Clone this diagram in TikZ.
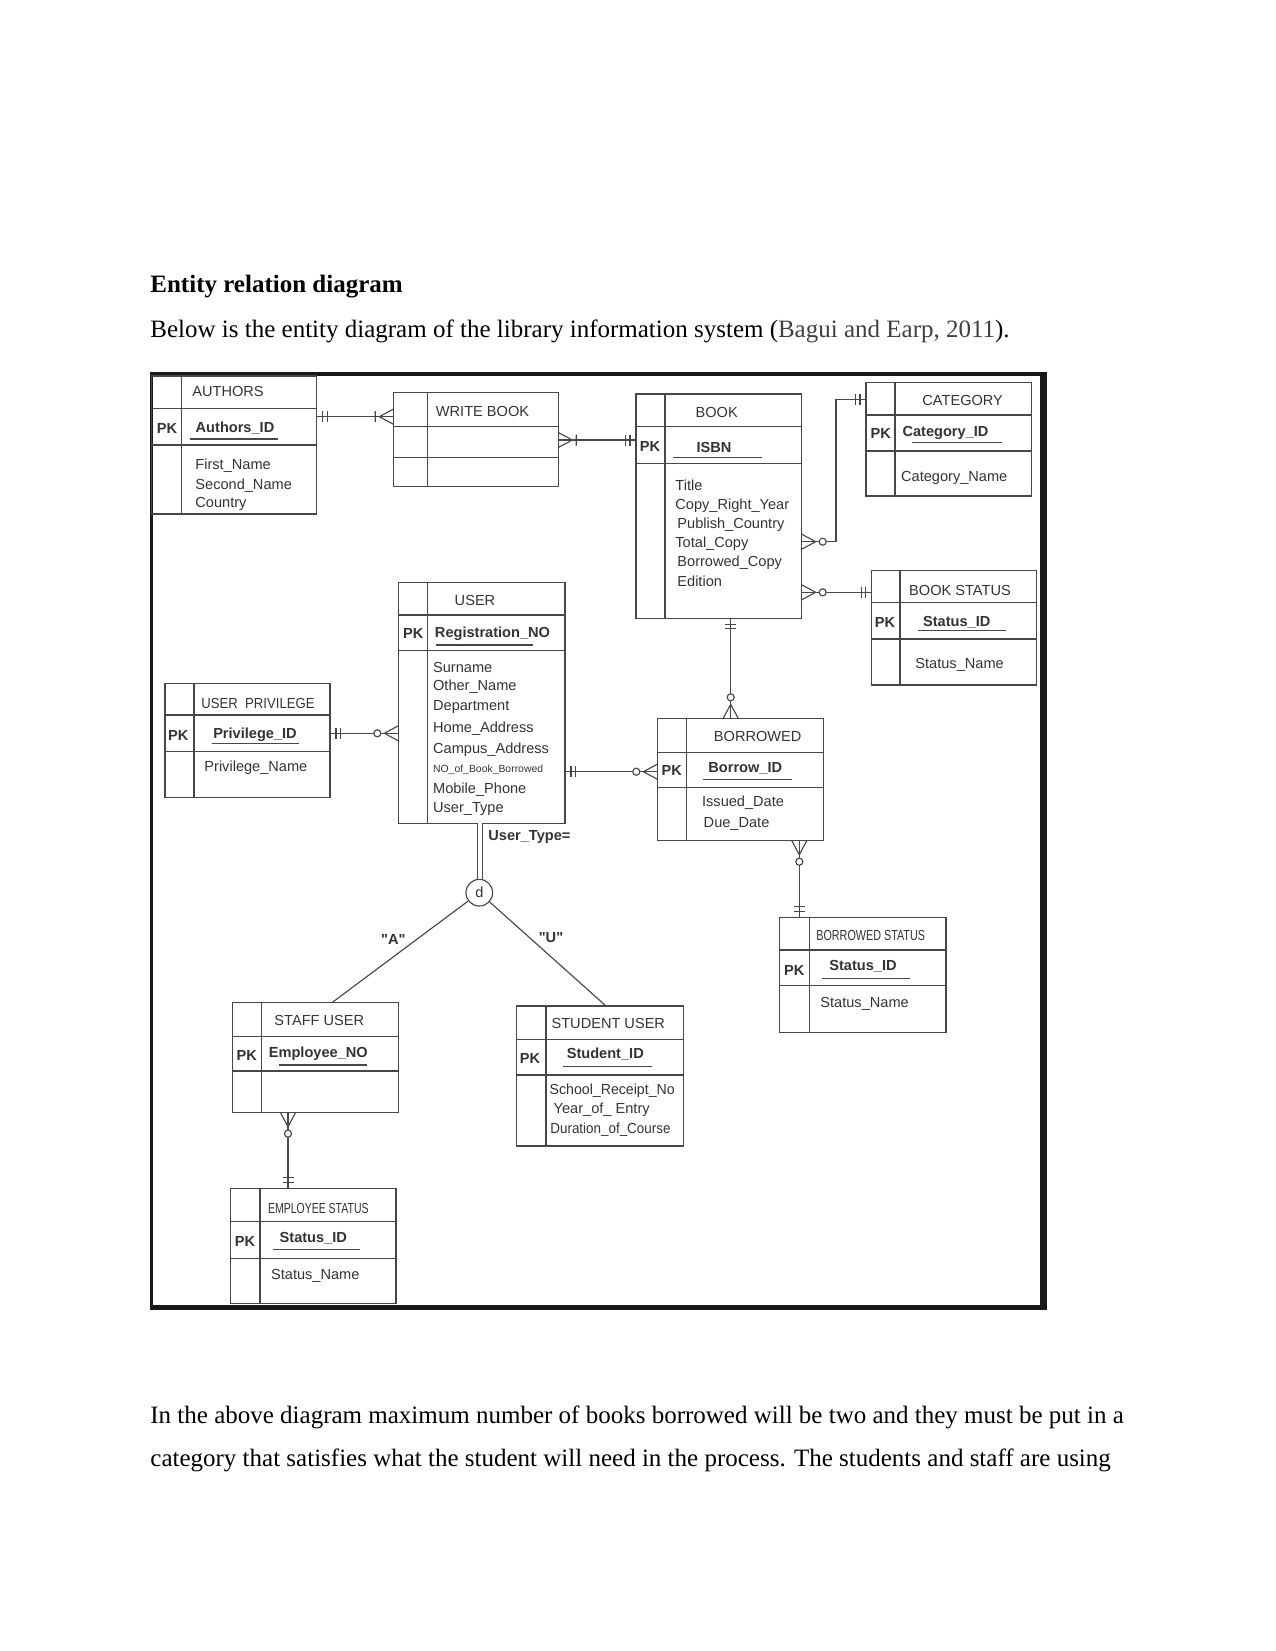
\documentclass[tikz,border=0pt]{standalone}
\usepackage{fontspec}
\usepackage{graphicx}
\setmainfont{Liberation Serif}
\newfontfamily\dsans{Liberation Sans}
\usetikzlibrary{fit,calc}
\tikzset{
 eline/.style={draw=black!72, line width=0.55pt},
 ebox/.style={eline, inner sep=0pt, outer sep=0pt, rectangle},
 dtxt/.style={inner sep=0pt, text=black!80, font=\dsans\fontsize{7}{8}\selectfont},
 ttl/.style={dtxt},
 pkl/.style={dtxt, font=\dsans\bfseries\fontsize{7}{8}\selectfont},
 attr/.style={dtxt, anchor=west},
 body/.style={inner sep=0pt, anchor=base west, font=\fontsize{12}{14}\selectfont},
 uline/.style={draw=black!72, line width=0.6pt},
}
% entity box: name, x1, y1, xdiv, x2, ytitle, ypk, y2
\newcommand\entity[8]{%
 \node[ebox, fit={(#2,#3) (#5,#8)}] (#1) {};
 \draw[eline] (#2,#6) -- (#5,#6) (#2,#7) -- (#5,#7) (#4,#3) -- (#4,#8);}
% cardinality marks: point, outward angle
\newcommand\mkOne[2]{\begin{scope}[shift={(#1)},rotate=#2]
 \draw[eline] (6,-5.5) -- (6,5.5) (10.5,-5.5) -- (10.5,5.5);\end{scope}}
\newcommand\mkZM[2]{\begin{scope}[shift={(#1)},rotate=#2]
 \draw[eline] (0,-7.5) -- (14,0) -- (0,7.5);
 \draw[eline, fill=white] (21,0) circle[radius=1.7pt];\end{scope}}
\newcommand\mkOM[2]{\begin{scope}[shift={(#1)},rotate=#2]
 \draw[eline] (0,-7.5) -- (14,0) -- (0,7.5) (18,-5.5) -- (18,5.5);\end{scope}}
\begin{document}
\begin{tikzpicture}[x=0.48pt, y=-0.48pt]
\useasboundingbox (0,0) rectangle (1275,1651);

% text of the page
\node[body, font=\bfseries\fontsize{12}{14}\selectfont] (head) at (150,292) {Entity relation diagram};
\node[body] (intro) at (150,337) {Below is the entity diagram of the library information system ({\color{black!75}Bagui and Earp, 2011}).};
\node[body] (par1) at (150,1423) {In the above diagram maximum number of books borrowed will be two and they must be put in a};
\node[body] (par2) at (150,1466) {category that satisfies what the student will need in the process. The students and staff are using};

% frame
\fill[black!90] (150,372) rectangle (1047,376);
\fill[black!90] (150,372) rectangle (152.5,1310);
\fill[black!90] (1039.5,372) rectangle (1047,1310);
\fill[black!90] (150,1305) rectangle (1047,1310);

% entities
\entity{authors}{151.7}{376}{181.7}{316.7}{408.3}{445}{514}
\entity{writebook}{393.3}{392.3}{427.3}{558.3}{426.7}{457.3}{486.7}
\entity{book}{636}{394}{665}{801.7}{426.7}{463.3}{618.3}
\entity{category}{866}{382.3}{895}{1031.7}{415}{451}{496}
\entity{bookstatus}{871.7}{570.7}{900}{1036.7}{602.7}{639}{685}
\entity{user}{398.3}{582.7}{427.3}{565}{615}{650.7}{823.3}
\entity{privilege}{165}{683.3}{194}{330}{715}{751.7}{797.7}
\entity{borrowed}{657.3}{718.3}{686.7}{823.3}{752.3}{787.3}{840.7}
\entity{bstatus}{779.3}{917.3}{809.3}{946}{950}{985.7}{1032.3}
\entity{staff}{232.3}{1002.7}{261.7}{398.3}{1036.7}{1071}{1112.7}
\entity{student}{516.7}{1006}{546}{683.3}{1039.3}{1075}{1146}
\entity{empstatus}{230.7}{1188.3}{260}{396}{1221.7}{1258.3}{1303.3}

% AUTHORS
\node[ttl] (authors-t) at (228,391) {AUTHORS};
\node[pkl] (authors-pk) at (167,428) {PK};
\node[pkl] (authors-k) at (235,428) {Authors\_ID};
\draw[uline] (190,439) -- (278,439);
\node[attr] (authors-a1) at (195,466) {First\_Name};
\node[attr] (authors-a2) at (195,486) {Second\_Name};
\node[attr] (authors-a3) at (195,504) {Country};

% WRITE BOOK
\node[ttl] (writebook-t) at (482.5,411.7) {WRITE BOOK};

% BOOK
\node[ttl] (book-t) at (716.7,412.7) {BOOK};
\node[pkl] (book-pk) at (650,446.7) {PK};
\node[pkl] (book-k) at (714,447) {ISBN};
\draw[uline] (673,457.3) -- (761.7,457.3);
\node[attr] (book-a1) at (675,485) {Title};
\node[attr] (book-a2) at (675,506) {Copy\_Right\_Year};
\node[attr] (book-a3) at (677,524.3) {Publish\_Country};
\node[attr] (book-a4) at (675,544) {Total\_Copy};
\node[attr] (book-a5) at (677,562.7) {Borrowed\_Copy};
\node[attr] (book-a6) at (677,581.7) {Edition};

% CATEGORY
\node[ttl] (category-t) at (962.7,400.7) {CATEGORY};
\node[pkl] (category-pk) at (880.7,433.3) {PK};
\node[pkl] (category-k) at (945.5,433.3) {Category\_ID};
\draw[uline] (911.7,442.7) -- (1001.7,442.7);
\node[attr] (category-a1) at (900.7,478.3) {Category\_Name};

% BOOK STATUS
\node[ttl] (bookstatus-t) at (960,590.7) {BOOK STATUS};
\node[pkl] (bookstatus-pk) at (885,622.3) {PK};
\node[pkl] (bookstatus-k) at (956.7,622.3) {Status\_ID};
\draw[uline] (918,630.7) -- (1006,630.7);
\node[attr] (bookstatus-a1) at (915,665) {Status\_Name};

% USER
\node[ttl] (user-t) at (475,600.7) {USER};
\node[pkl] (user-pk) at (413.3,633.3) {PK};
\node[pkl] (user-k) at (492.5,633.3) {Registration\_NO};
\draw[uline] (436,645) -- (533,645);
\node[attr] (user-a1) at (432.7,667.3) {Surname};
\node[attr] (user-a2) at (432.7,686.7) {Other\_Name};
\node[attr] (user-a3) at (432.7,707.3) {Department};
\node[attr] (user-a4) at (432.7,728.3) {Home\_Address};
\node[attr] (user-a5) at (432.7,749.3) {Campus\_Address};
\node[attr, font=\dsans\fontsize{5}{6}\selectfont] (user-a6) at (432.7,769.3) {NO\_of\_Book\_Borrowed};
\node[attr] (user-a7) at (432.7,790) {Mobile\_Phone};
\node[attr] (user-a8) at (432.7,809.3) {User\_Type};

% USER PRIVILEGE
\node[ttl] (privilege-t) at (258,703.3) {\scalebox{0.9}[1]{USER~ PRIVILEGE}};
\node[pkl] (privilege-pk) at (178.3,735) {PK};
\node[pkl] (privilege-k) at (255,735) {Privilege\_ID};
\draw[uline] (211.7,743.3) -- (299.3,743.3);
\node[attr] (privilege-a1) at (204,767.3) {Privilege\_Name};

% BORROWED
\node[ttl] (borrowed-t) at (757.7,736) {BORROWED};
\node[pkl] (borrowed-pk) at (671.7,770) {PK};
\node[pkl] (borrowed-k) at (745.3,768.3) {Borrow\_ID};
\draw[uline] (703.3,779.3) -- (792.3,779.3);
\node[attr] (borrowed-a1) at (701.7,802.7) {Issued\_Date};
\node[attr] (borrowed-a2) at (703.3,824) {Due\_Date};

% BORROWED STATUS
\node[ttl] (bstatus-t) at (870.7,935) {\scalebox{0.74}[1]{BORROWED STATUS}};
\node[pkl] (bstatus-pk) at (794.3,970) {PK};
\node[pkl] (bstatus-k) at (863,966.7) {Status\_ID};
\draw[uline] (821.7,978.3) -- (910,978.3);
\node[attr] (bstatus-a1) at (820,1004) {Status\_Name};

% STAFF USER
\node[ttl] (staff-t) at (319.3,1020) {STAFF USER};
\node[pkl] (staff-pk) at (246.7,1055) {PK};
\node[pkl] (staff-k) at (318.3,1053.3) {Employee\_NO};
\draw[uline] (279.3,1065) -- (366.7,1065);

% STUDENT USER
\node[ttl] (student-t) at (608.3,1023.3) {STUDENT USER};
\node[pkl] (student-pk) at (530,1058.3) {PK};
\node[pkl] (student-k) at (605.3,1054) {Student\_ID};
\draw[uline] (563.3,1066.7) -- (651.7,1066.7);
\node[attr] (student-a1) at (549.3,1090.7) {\scalebox{0.97}[1]{School\_Receipt\_No}};
\node[attr] (student-a2) at (553.3,1110) {Year\_of\_ Entry};
\node[attr] (student-a3) at (550,1129.3) {\scalebox{0.92}[1]{Duration\_of\_Course}};

% EMPLOYEE STATUS
\node[ttl] (empstatus-t) at (318.3,1208.3) {\scalebox{0.72}[1]{EMPLOYEE STATUS}};
\node[pkl] (empstatus-pk) at (245,1241.7) {PK};
\node[pkl] (empstatus-k) at (313.3,1238.3) {Status\_ID};
\draw[uline] (272.7,1249.3) -- (360,1249.3);
\node[attr] (empstatus-a1) at (270.7,1276) {Status\_Name};

% ---- connectors ----
% authors - write book
\coordinate (aw1) at ($(authors.north east)+(0,40.7)$);
\coordinate (aw2) at (aw1 -| writebook.west);
\draw[eline] (aw1) -- (aw2);
\mkOne{aw1}{0}\mkOM{aw2}{180}
% write book - book
\coordinate (wb1) at ($(writebook.north east)+(0,47.7)$);
\coordinate (wb2) at (wb1 -| book.west);
\draw[eline] (wb1) -- (wb2);
\mkOM{wb1}{0}\mkOne{wb2}{180}
% book - category
\coordinate (bc1) at ($(book.north east)+(0,147.7)$);
\coordinate (bc2) at ($(category.north west)+(0,17)$);
\draw[eline] (bc1) -- ++(34.3,0) |- (bc2);
\mkZM{bc1}{0}\mkOne{bc2}{180}
% book - book status
\coordinate (bs1) at ($(book.north east)+(0,198.3)$);
\coordinate (bs2) at (bs1 -| bookstatus.west);
\draw[eline] (bs1) -- (bs2);
\mkZM{bs1}{0}\mkOne{bs2}{180}
% book - borrowed
\coordinate (bb1) at ($(book.south west)+(94.7,0)$);
\coordinate (bb2) at (bb1 |- borrowed.north);
\draw[eline] (bb1) -- (bb2);
\mkOne{bb1}{270}\mkZM{bb2}{90}
% user privilege - user
\coordinate (pu1) at ($(privilege.north east)+(0,50)$);
\coordinate (pu2) at (pu1 -| user.west);
\draw[eline] (pu1) -- (pu2);
\mkOne{pu1}{0}\mkZM{pu2}{180}
% user - borrowed
\coordinate (ub1) at ($(user.north east)+(0,189)$);
\coordinate (ub2) at (ub1 -| borrowed.west);
\draw[eline] (ub1) -- (ub2);
\mkOne{ub1}{0}\mkZM{ub2}{180}
% borrowed - borrowed status
\coordinate (bo1) at ($(borrowed.south west)+(142,0)$);
\coordinate (bo2) at (bo1 |- bstatus.north);
\draw[eline] (bo1) -- (bo2);
\mkZM{bo1}{270}\mkOne{bo2}{90}
% staff - employee status
\coordinate (se1) at ($(staff.south west)+(55.7,0)$);
\coordinate (se2) at (se1 |- empstatus.north);
\draw[eline] (se1) -- (se2);
\mkZM{se1}{270}\mkOne{se2}{90}

% specialisation
\node[circle, draw=black!72, line width=0.55pt, minimum size=12.8pt, inner sep=0pt, fill=white, text=black!80, font=\dsans\fontsize{7}{8}\selectfont] (d) at (479.3,892.7) {d};
\coordinate (ud1) at ($(user.south west)+(81.7,0)$);
\draw[draw=black!72, line width=0.5pt, double=white, double distance=1.5pt] (ud1) -- (ud1 |- d.north);
\node[pkl, anchor=west] (utype) at (488,836.7) {User\_Type=};
\coordinate (dst) at ($(staff.north west)!0.6!(staff.north east)$);
\coordinate (dsu) at ($(student.north west)!0.536!(student.north east)$);
\draw[eline] (d) -- (dst);
\draw[eline] (d) -- (dsu);
\node[pkl] (la) at (393.3,939.3) {"A"};
\node[pkl] (lu) at (551,937.3) {"U"};
\end{tikzpicture}
\end{document}
